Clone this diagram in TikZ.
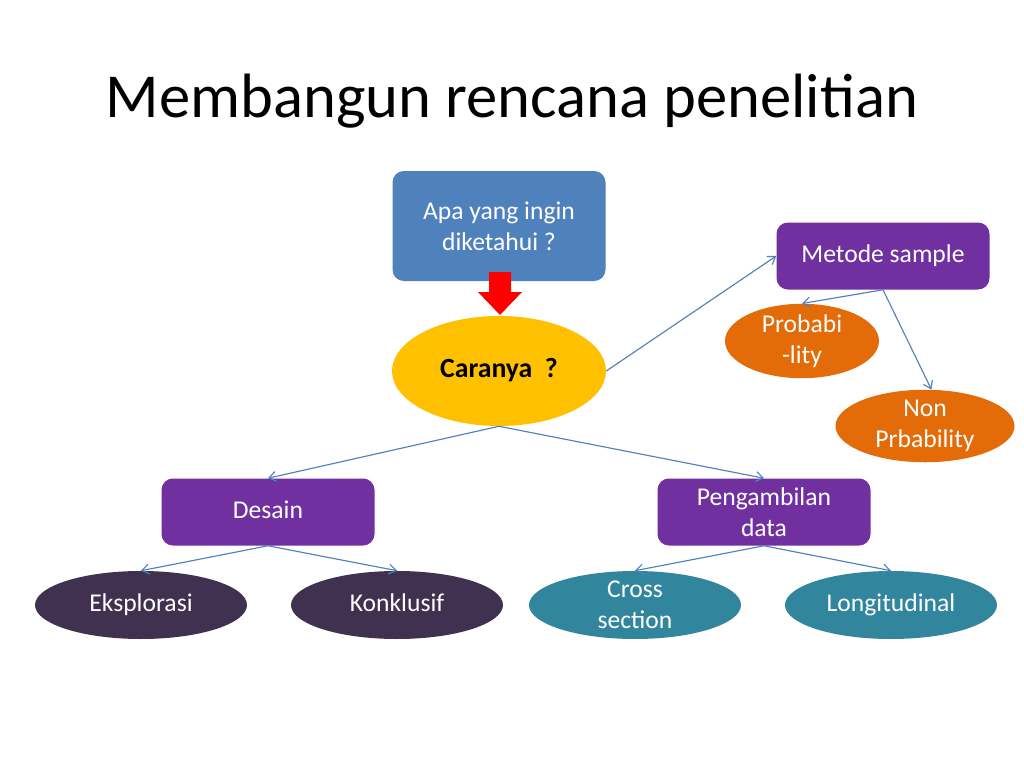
\documentclass[tikz,border=0pt]{standalone}
\usepackage{fontspec}
\setmainfont{Carlito}
\usetikzlibrary{arrows.meta,shapes.geometric}
\definecolor{cblue}{HTML}{4F81BD}
\definecolor{cyellow}{HTML}{FFC000}
\definecolor{cpurple}{HTML}{7030A0}
\definecolor{corange}{HTML}{E36C09}
\definecolor{cdark}{HTML}{403151}
\definecolor{cteal}{HTML}{31859C}
\tikzset{
  box/.style={rectangle, rounded corners=8pt, minimum width={213*0.703pt}, minimum height={67*0.703pt}, inner sep=2pt, text=white, font=\fontsize{18}{21.6}\selectfont, align=center},
  oval/.style={ellipse, minimum width={212*0.703pt}, minimum height={68*0.703pt}, inner sep=0pt, text=white, font=\fontsize{18}{21.6}\selectfont, align=center},
  conn/.style={draw=cblue, line width=0.8pt, -{Straight Barb[length=5pt,width=7pt]}}
}
\begin{document}
\begin{tikzpicture}[x=0.703pt, y=-0.703pt]
\path[use as bounding box, fill=white] (0,0) rectangle (1024,768);
\node (title) at (512,101) {\fontsize{44}{52}\selectfont Membangun rencana penelitian};
\node[box, fill=cblue, minimum height={110*0.703pt}] (apa) at (499,226) {Apa yang ingin\\diketahui ?};
\node[oval, fill=cyellow, minimum width={214*0.703pt}, minimum height={110*0.703pt}, text=black, font=\fontsize{19.5}{23}\selectfont\bfseries] (cara) at (499,371) {\strut Caranya\ \ ?};
\node[box, fill=cpurple] (metode) at (883,256) {\strut Metode sample};
\node[oval, fill=corange, minimum width={154*0.703pt}, minimum height={66*0.703pt}] (prob) at (802,341) {Probabi\\-lity};
\node[oval, fill=corange, minimum width={179*0.703pt}, minimum height={67*0.703pt}] (non) at (925,426) {Non\\Prbability};
\node[box, fill=cpurple] (desain) at (268,512) {\strut Desain};
\node[box, fill=cpurple] (ambil) at (764,512) {Pengambilan\\data};
\node[oval, fill=cdark] (eks) at (141,605) {\strut Eksplorasi};
\node[oval, fill=cdark] (kon) at (397,605) {\strut Konklusif};
\node[oval, fill=cteal] (cross) at (635,605) {Cross\\section};
\node[oval, fill=cteal] (longi) at (891,605) {\strut Longitudinal};
% red block arrow
\fill[red] (489,272) -- (511,272) -- (511,292) -- (522,292) -- (500,315) -- (478,292) -- (489,292) -- cycle;
% connectors
\draw[conn] (cara.east) -- (metode.west);
\draw[conn] (metode.south) -- (prob.north);
\draw[conn] (metode.south) -- (non.80);
\draw[conn] (cara.south) -- (desain.north);
\draw[conn] (cara.south) -- (ambil.north);
\draw[conn] (desain.south) -- (eks.north);
\draw[conn] (desain.south) -- (kon.north);
\draw[conn] (ambil.south) -- (cross.north);
\draw[conn] (ambil.south) -- (longi.north);
\end{tikzpicture}
\end{document}
